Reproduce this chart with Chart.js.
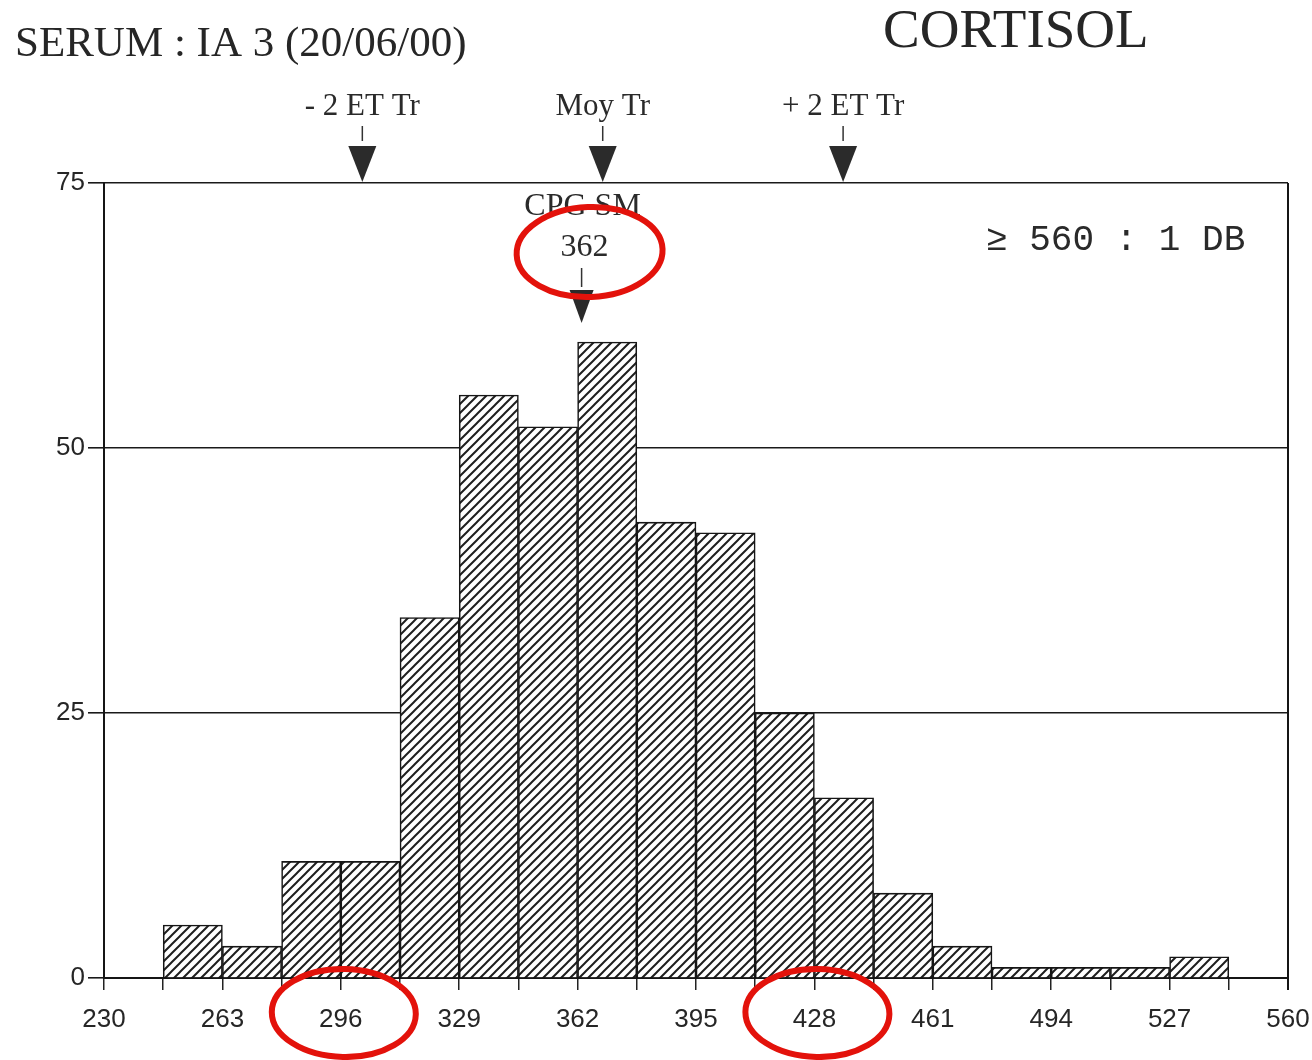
<!DOCTYPE html>
<html>
<head>
<meta charset="utf-8">
<script src="https://cdn.jsdelivr.net/npm/chart.js@4.4.1/dist/chart.umd.min.js"></script>
<style>
  html, body { margin: 0; padding: 0; background: #ffffff; }
  #wrap { width: 1312px; height: 1060px; }
</style>
</head>
<body>
<div id="wrap"><canvas id="c" width="1312" height="1060"></canvas></div>
<script>
// Cortisol histogram: lower bound of each bin (bins are 16.5 wide) and its count
const binWidth = 16.5;
const binStarts = [246.5, 263, 279.5, 296, 312.5, 329, 345.5, 362, 378.5, 395, 411.5, 428, 444.5, 461, 477.5, 494, 510.5, 527];
const binCounts = [5, 3, 11, 11, 34, 55, 52, 60, 43, 42, 25, 17, 8, 3, 1, 1, 1, 2];

// Axis ticks
const xTickLabels = [230, 263, 296, 329, 362, 395, 428, 461, 494, 527, 560];
const yTickValues = [0, 25, 50, 75];

// Reference markers drawn above the frame
const refMarkerLabels = ['- 2 ET Tr', 'Moy Tr', '+ 2 ET Tr'];
const refMarkerValues = [302, 369, 436];

// Target value marker inside the frame
const cpgLabel = 'CPG SM';
const cpgValue = 362;

// Tick labels circled in red
const circledTicks = [296, 428];

const titleLeft = 'SERUM : IA 3 (20/06/00)';
const titleRight = 'CORTISOL';
const overflowNote = '\u2265 560 : 1 DB';

// Diagonal hatch fill for the bars
function makeHatch() {
  const s = 9;
  const c = document.createElement('canvas');
  c.width = s; c.height = s;
  const g = c.getContext('2d');
  g.fillStyle = '#ffffff';
  g.fillRect(0, 0, s, s);
  g.strokeStyle = '#1e1e1e';
  g.lineWidth = 2;
  g.beginPath();
  g.moveTo(0, s); g.lineTo(s, 0);
  g.moveTo(-1, 1); g.lineTo(1, -1);
  g.moveTo(s - 1, s + 1); g.lineTo(s + 1, s - 1);
  g.stroke();
  return g.createPattern(c, 'repeat');
}

function downTriangle(ctx, cx, top, tip, half) {
  ctx.beginPath();
  ctx.moveTo(cx - half, top);
  ctx.lineTo(cx + half, top);
  ctx.lineTo(cx, tip);
  ctx.closePath();
  ctx.fill();
}

function stem(ctx, cx, y1, y2) {
  ctx.beginPath();
  ctx.moveTo(cx, y1);
  ctx.lineTo(cx, y2);
  ctx.stroke();
}

const decorations = {
  id: 'decorations',
  afterDraw(chart) {
    const { ctx, chartArea: a } = chart;
    const x = chart.scales.x;
    ctx.save();

    // right side of the frame
    ctx.strokeStyle = '#151515';
    ctx.lineWidth = 2;
    ctx.beginPath();
    ctx.moveTo(a.right, a.top);
    ctx.lineTo(a.right, a.bottom + 12);
    ctx.stroke();

    // titles
    ctx.fillStyle = '#262626';
    ctx.textBaseline = 'alphabetic';
    ctx.textAlign = 'left';
    ctx.font = '43px "Liberation Serif", serif';
    ctx.fillText(titleLeft, 15, 56);
    ctx.font = '55px "Liberation Serif", serif';
    ctx.fillText(titleRight, 883, 47);

    // reference markers above the frame
    ctx.font = '31px "Liberation Serif", serif';
    ctx.textAlign = 'center';
    ctx.strokeStyle = '#333';
    ctx.lineWidth = 1.5;
    refMarkerValues.forEach((v, i) => {
      const px = x.getPixelForValue(v);
      ctx.fillStyle = '#2a2a2a';
      ctx.fillText(refMarkerLabels[i], px, 115);
      stem(ctx, px, 126, 141);
      ctx.fillStyle = '#2b2b2b';
      downTriangle(ctx, px, 146, a.top - 1, 14);
    });

    // target marker inside the frame
    const cx = x.getPixelForValue(cpgValue);
    ctx.fillStyle = '#2a2a2a';
    ctx.font = '32px "Liberation Serif", serif';
    ctx.fillText(cpgLabel, cx + 5, 215);
    ctx.fillText(String(cpgValue), cx + 7, 256);
    stem(ctx, cx + 4, 268, 287);
    downTriangle(ctx, cx + 4, 290, 323, 12);

    // overflow note
    ctx.textAlign = 'left';
    ctx.fillStyle = '#2a2a2a';
    ctx.font = '36px "Liberation Mono", monospace';
    ctx.fillText(overflowNote, 986, 250);

    // red circles
    ctx.strokeStyle = '#e3120b';
    ctx.lineWidth = 6;
    ctx.beginPath();
    ctx.ellipse(cx + 12, 252, 73, 45, -0.04, 0, Math.PI * 2);
    ctx.stroke();
    circledTicks.forEach(v => {
      const px = x.getPixelForValue(v);
      ctx.beginPath();
      ctx.ellipse(px + 3, 1013, 72, 44, 0.02, 0, Math.PI * 2);
      ctx.stroke();
    });

    ctx.restore();
  }
};

const ctx = document.getElementById('c').getContext('2d');
new Chart(ctx, {
  type: 'bar',
  data: {
    datasets: [{
      data: binStarts.map((s, i) => ({ x: s + binWidth / 2, y: binCounts[i] })),
      backgroundColor: makeHatch(),
      borderColor: '#161616',
      borderWidth: 1.6,
      barPercentage: 1,
      categoryPercentage: 1
    }]
  },
  options: {
    responsive: false,
    animation: false,
    layout: { padding: { top: 183, right: 24, left: 0, bottom: 0 } },
    plugins: { legend: { display: false }, tooltip: { enabled: false } },
    scales: {
      x: {
        type: 'linear',
        offset: false,
        min: xTickLabels[0],
        max: xTickLabels[xTickLabels.length - 1],
        afterFit(scale) {
          scale.height = 82;
          scale.paddingLeft = 0;
          scale.paddingRight = 0;
        },
        afterBuildTicks(scale) {
          const t = [];
          xTickLabels.forEach((v, i) => {
            t.push({ value: v });
            if (i < xTickLabels.length - 1) t.push({ value: (v + xTickLabels[i + 1]) / 2 });
          });
          scale.ticks = t;
        },
        ticks: {
          autoSkip: false,
          maxRotation: 0,
          padding: 14,
          color: '#262626',
          font: { family: '"Liberation Sans", Arial, sans-serif', size: 26 },
          callback: (v) => xTickLabels.includes(v) ? String(v) : ''
        },
        grid: {
          offset: false,
          drawOnChartArea: false,
          drawTicks: true,
          tickLength: 12,
          color: '#222',
          lineWidth: 1.5
        },
        border: { display: true, color: '#151515', width: 2 }
      },
      y: {
        min: yTickValues[0],
        max: yTickValues[yTickValues.length - 1],
        afterFit(scale) {
          scale.width = 104;
          scale.paddingTop = 0;
          scale.paddingBottom = 0;
        },
        afterBuildTicks(scale) { scale.ticks = yTickValues.map(v => ({ value: v })); },
        ticks: {
          padding: 3,
          color: '#262626',
          font: { family: '"Liberation Sans", Arial, sans-serif', size: 26 }
        },
        grid: {
          drawOnChartArea: true,
          drawTicks: true,
          tickLength: 16,
          color: '#1a1a1a',
          lineWidth: 1.6
        },
        border: { display: true, color: '#151515', width: 2 }
      }
    }
  },
  plugins: [decorations]
});
</script>
</body>
</html>
